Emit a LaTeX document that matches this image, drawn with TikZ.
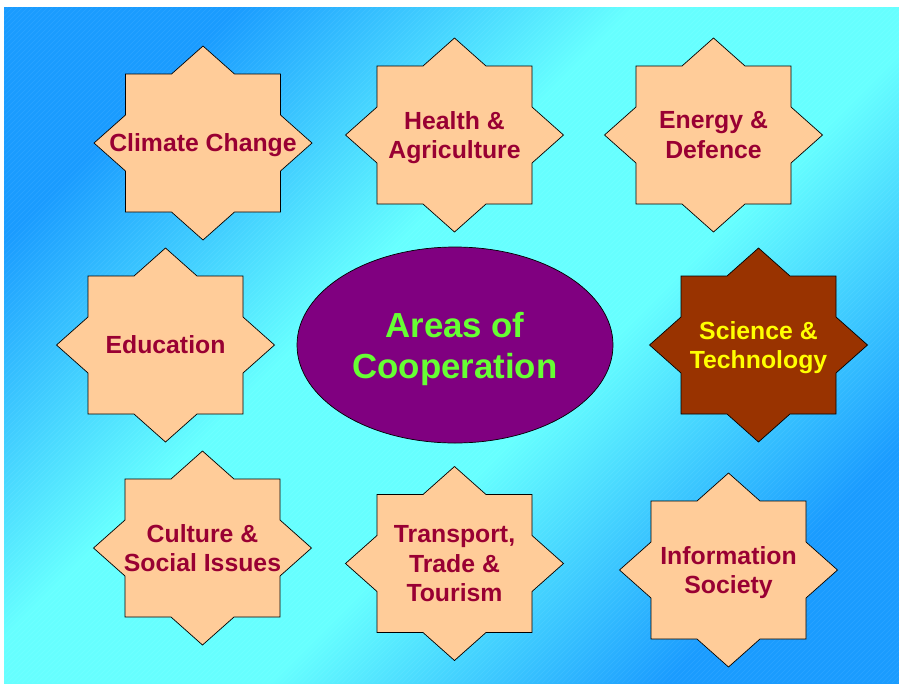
\documentclass[tikz,border=0pt]{standalone}
\usepackage{fontspec}
\setmainfont{Liberation Sans}
\usetikzlibrary{shapes.geometric}
\definecolor{bgblue}{HTML}{1A9CFF}
\definecolor{bgcyan}{HTML}{66FFFF}
\definecolor{peach}{HTML}{FFCC99}
\definecolor{wine}{HTML}{990033}
\definecolor{rust}{HTML}{993300}
\definecolor{plum}{HTML}{800080}
\definecolor{lime}{HTML}{66FF33}
\definecolor{sun}{HTML}{FFFF00}
\pgfdeclareverticalshading{sea}{100bp}{color(0bp)=(bgblue); color(25bp)=(bgblue);
  color(43bp)=(bgcyan); color(57bp)=(bgcyan); color(75bp)=(bgblue); color(100bp)=(bgblue)}
\tikzset{
  pics/burst/.style={code={
    \draw[line width=0.7pt, fill=#1] (0,-97) -- (31.5,-69) -- (77.5,-69) -- (77.5,-28)
      -- (109,0) -- (77.5,28) -- (77.5,69) -- (31.5,69) -- (0,97) -- (-31.5,69)
      -- (-77.5,69) -- (-77.5,28) -- (-109,0) -- (-77.5,-28) -- (-77.5,-69)
      -- (-31.5,-69) -- cycle;
  }},
}

\begin{document}
\begin{tikzpicture}[x=1pt, y=-1pt,
    area/.style={font=\fontsize{24.8}{29.5}\selectfont\bfseries, text=wine,
      align=center, text depth=0pt},
    hot/.style={area, text=sun},
    hub/.style={ellipse, draw=black, line width=0.7pt, fill=plum,
      minimum width=316pt, minimum height=196pt, text=lime, text depth=0pt,
      font=\fontsize{34.8}{41}\selectfont\bfseries, align=center},
    stripe/.style={white, opacity=0.08, line width=0.4pt},
  ]
  \useasboundingbox (0,0) rectangle (899,683);

  % background
  \shade[shading=sea, shading angle=45] (4,7) rectangle (899,683);
  \begin{scope}
    \clip (4,7) rectangle (899,683);
    \foreach \c in {0,5,...,1585}
      \draw[stripe] (\c,0) -- ({\c-683},683);
  \end{scope}

  % centre
  \node[hub] (coop) at (455,345) {Areas of\\Cooperation};

  % stars
  \pic at (203,143) {burst=peach};
  \node[area] (climate) at (203,143) {Climate Change};
  \pic at (454.5,135) {burst=peach};
  \node[area] (health) at (454.5,135) {Health \&\\Agriculture};
  \pic at (713.5,135) {burst=peach};
  \node[area] (energy) at (713.5,135) {Energy \&\\Defence};

  \pic at (165.5,345) {burst=peach};
  \node[area] (educ) at (165.5,345) {Education};
  \pic at (758.5,345) {burst=rust};
  \node[hot] (science) at (758.5,345) {Science \&\\Technology};

  \pic at (202.5,548) {burst=peach};
  \node[area] (culture) at (202.5,548) {Culture \&\\Social Issues};
  \pic at (454.5,563.5) {burst=peach};
  \node[area] (transport) at (454.5,563.5) {Transport,\\Trade \&\\Tourism};
  \pic at (728.5,570) {burst=peach};
  \node[area] (info) at (728.5,570) {Information\\Society};
\end{tikzpicture}
\end{document}
